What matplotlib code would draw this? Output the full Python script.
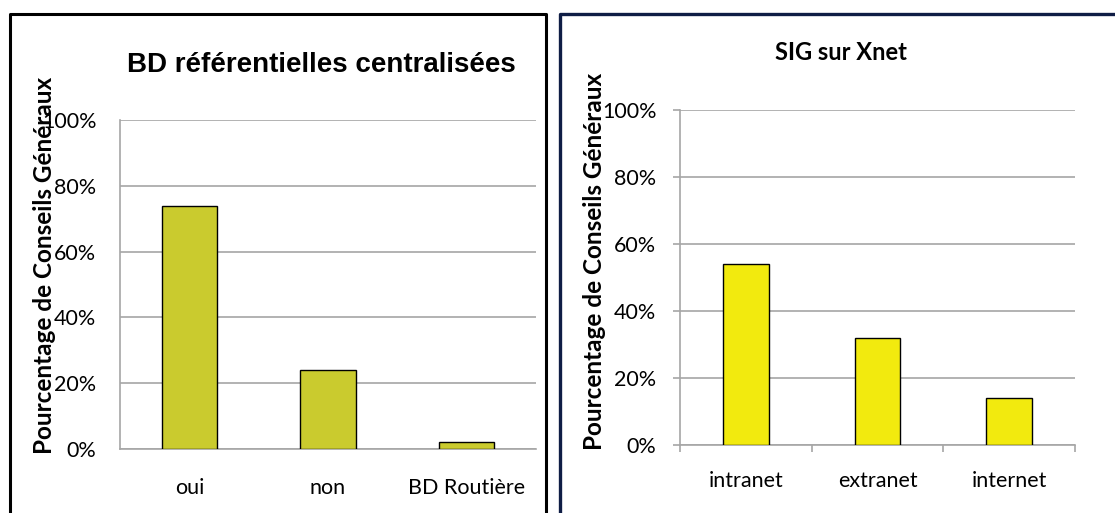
import numpy as np
import matplotlib
matplotlib.use("Agg")
import matplotlib.pyplot as plt
from matplotlib.lines import Line2D
from matplotlib.ticker import FixedLocator

# =========================
# DONNEES
# =========================
cat_bd = ["oui", "non", "BD Routière"]
val_bd = [0.74, 0.24, 0.02]

cat_xnet = ["intranet", "extranet", "internet"]
val_xnet = [0.54, 0.32, 0.14]

y_ticks = [0, 0.2, 0.4, 0.6, 0.8, 1.0]
y_labels = ["0%", "20%", "40%", "60%", "80%", "100%"]

W, H = 1115, 513
fig = plt.figure(figsize=(W / 100, H / 100), dpi=100)
fig.patch.set_facecolor("white")


def px_x(x):
    return x / W


def px_y(y):
    return 1 - y / H


grid_col = "#A6A6A6"
txt_font = ["Lato", "DejaVu Sans"]
tick_fs = 15.5
lab_fs = 17.5

# =========================
# CADRES
# =========================
fig.add_artist(Line2D([px_x(10), px_x(10), px_x(546), px_x(546)],
                      [px_y(520), px_y(14), px_y(14), px_y(520)],
                      color="black", lw=2.2, transform=fig.transFigure))
fig.add_artist(Line2D([px_x(560), px_x(560), px_x(1120)],
                      [px_y(520), px_y(14), px_y(14)],
                      color="#0F1D45", lw=2.4, transform=fig.transFigure))

# =========================
# GRAPHIQUE GAUCHE
# =========================
ax1 = fig.add_axes([px_x(120), px_y(449), (536 - 120) / W, (449 - 120) / H])
x1 = np.arange(len(cat_bd))
ax1.bar(x1, val_bd, width=0.40, color="#CACB2E", edgecolor="black", lw=1.0, zorder=3)
ax1.set_xlim(-0.5, 2.5)
ax1.set_ylim(0, 1.0)
ax1.set_yticks(y_ticks)
ax1.set_yticklabels(y_labels, fontfamily=txt_font, fontsize=tick_fs)
ax1.set_xticks(x1)
ax1.set_xticklabels(cat_bd, fontfamily=txt_font, fontsize=tick_fs)
ax1.tick_params(axis="y", length=0, pad=17)
ax1.tick_params(axis="x", length=0, pad=21)
ax1.grid(axis="y", color=grid_col, lw=1.2, zorder=0)
for s in ["top", "right"]:
    ax1.spines[s].set_visible(False)
ax1.spines["left"].set_color(grid_col)
ax1.spines["bottom"].set_color(grid_col)
ax1.spines["left"].set_linewidth(1.2)
ax1.spines["bottom"].set_linewidth(1.2)

fig.text(px_x(321), px_y(65), "BD référentielles centralisées",
         fontfamily=["Liberation Sans", "DejaVu Sans"], fontweight="bold",
         fontsize=20, ha="center", va="center")
fig.text(px_x(45), px_y(265), "Pourcentage de Conseils Généraux",
         fontfamily=txt_font, fontweight="bold", fontsize=lab_fs,
         rotation=90, ha="center", va="center")

# =========================
# GRAPHIQUE DROITE
# =========================
ax2 = fig.add_axes([px_x(680), px_y(445), (1075 - 680) / W, (445 - 110) / H])
x2 = np.arange(len(cat_xnet))
ax2.bar(x2, val_xnet, width=0.345, color="#F2EA0E", edgecolor="black", lw=1.0, zorder=3)
ax2.set_xlim(-0.5, 2.5)
ax2.set_ylim(0, 1.0)
ax2.set_yticks(y_ticks)
ax2.set_yticklabels(y_labels, fontfamily=txt_font, fontsize=tick_fs)
ax2.set_xticks(x2)
ax2.set_xticklabels(cat_xnet, fontfamily=txt_font, fontsize=tick_fs)
ax2.xaxis.set_minor_locator(FixedLocator([-0.5, 0.5, 1.5, 2.5]))
ax2.tick_params(axis="y", length=5, width=1.2, color=grid_col, pad=12)
ax2.tick_params(axis="x", which="major", length=0, pad=19)
ax2.tick_params(axis="x", which="minor", length=5, width=1.2, color=grid_col)
ax2.grid(axis="y", color=grid_col, lw=1.2, zorder=0)
for s in ["top", "right"]:
    ax2.spines[s].set_visible(False)
ax2.spines["left"].set_color(grid_col)
ax2.spines["bottom"].set_color(grid_col)
ax2.spines["left"].set_linewidth(1.2)
ax2.spines["bottom"].set_linewidth(1.2)

fig.text(px_x(841), px_y(52), "SIG sur Xnet",
         fontfamily=txt_font, fontweight="bold", fontsize=17,
         ha="center", va="center")
fig.text(px_x(595), px_y(261), "Pourcentage de Conseils Généraux",
         fontfamily=txt_font, fontweight="bold", fontsize=lab_fs,
         rotation=90, ha="center", va="center")

fig.savefig("out.png", dpi=100)
